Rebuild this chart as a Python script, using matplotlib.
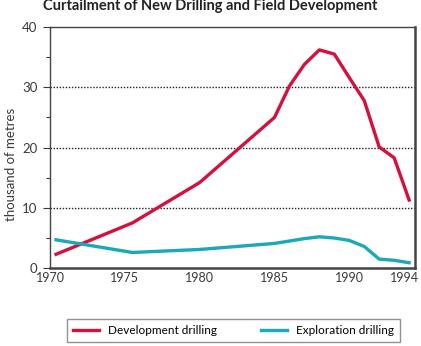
import matplotlib.pyplot as plt
from matplotlib.ticker import MultipleLocator
from matplotlib.transforms import ScaledTranslation

TITLE = 'Curtailment of New Drilling and Field Development'
Y_LABEL = 'thousand of metres'

dev_years = [1970.4, 1975.5, 1980, 1985, 1986, 1987, 1988, 1989, 1990, 1991, 1992, 1993, 1994]
dev_values = [2.3, 7.5, 14.2, 25.0, 30.2, 33.8, 36.2, 35.5, 31.6, 27.8, 20.1, 18.3, 11.3]

exp_years = [1970.4, 1975.5, 1980, 1985, 1986, 1987, 1988, 1989, 1990, 1991, 1992, 1993, 1994]
exp_values = [4.7, 2.6, 3.1, 4.1, 4.5, 4.9, 5.2, 5.0, 4.6, 3.6, 1.5, 1.3, 0.9]

x_ticks = [1970, 1975, 1980, 1985, 1990, 1994]
y_ticks = [0, 10, 20, 30, 40]

DEV_COLOUR = '#d4103c'
EXP_COLOUR = '#1aa8ba'
TEXT_COLOUR = '#3a3a3a'

plt.rcParams['font.family'] = ['Lato', 'DejaVu Sans']

fig = plt.figure(figsize=(4.21, 3.46), dpi=100)
ax = fig.add_axes([0.119, 0.225, 0.867, 0.697])

ax.plot(dev_years, dev_values, color=DEV_COLOUR, lw=2.4, label='Development drilling')
ax.plot(exp_years, exp_values, color=EXP_COLOUR, lw=2.4, label='Exploration drilling')

ax.set_xlim(1970, 1994.4)
ax.set_ylim(0, 40)
ax.set_xticks(x_ticks)
ax.set_yticks(y_ticks)
ax.yaxis.set_minor_locator(MultipleLocator(5))
ax.tick_params(axis='x', length=0, pad=3, labelsize=9, colors=TEXT_COLOUR)
ax.tick_params(axis='y', which='major', length=5, width=0.8, pad=4, labelsize=9.5,
               colors=TEXT_COLOUR)
ax.tick_params(axis='y', which='minor', length=3, width=0.8, colors=TEXT_COLOUR)

# nudge the last year label so it stays inside the figure
last = ax.get_xticklabels()[-1]
last.set_transform(last.get_transform() + ScaledTranslation(-3 / 72, 0, fig.dpi_scale_trans))

# dotted horizontal reference lines
for v in [10, 20, 30]:
    ax.axhline(v, color='#222222', ls=(0, (1, 1.2)), lw=1.0, zorder=0)

for side in ['left', 'top']:
    ax.spines[side].set_linewidth(1.0)
    ax.spines[side].set_color('#444444')
for side in ['right', 'bottom']:
    ax.spines[side].set_linewidth(1.8)
    ax.spines[side].set_color('#444444')

ax.set_ylabel(Y_LABEL, fontsize=9.5, color=TEXT_COLOUR)
ax.yaxis.set_label_coords(-0.09, 0.43)

fig.text(0.5, 0.972, TITLE, ha='center', va='baseline', fontsize=10.5, fontweight='bold',
         color='#222222')

fig.legend(loc='center', bbox_to_anchor=(0.159, 0.009, 0.791, 0.072), mode='expand',
           ncol=2, fontsize=8.5, frameon=True, fancybox=False, edgecolor='#777777',
           handlelength=2.2, borderpad=0.5, borderaxespad=0)

plt.savefig('out.png', dpi=100)
